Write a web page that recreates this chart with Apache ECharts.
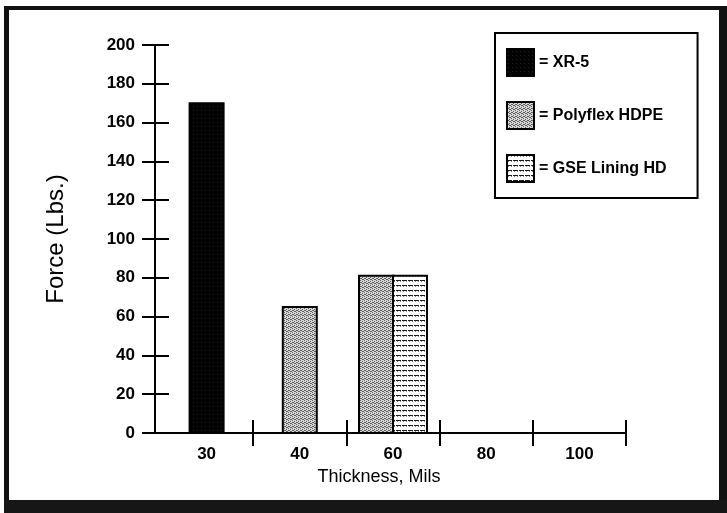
<!DOCTYPE html>
<html>
<head>
<meta charset="utf-8">
<script src="https://cdn.jsdelivr.net/npm/echarts@6/dist/echarts.min.js"></script>
<style>
html,body{margin:0;padding:0;background:#fff;}
#chart{width:727px;height:513px;}
</style>
</head>
<body>
<div id="chart"></div>
<script>
// ---- data ----
const categories = ['30', '40', '60', '80', '100'];
const seriesNames = ['XR-5', 'Polyflex HDPE', 'GSE Lining HD'];
const xr5 = [170, null, null, null, null];
const polyflex = [null, 65, 81, null, null];
const gse = [null, null, 81, null, null];
const yTicks = [0, 20, 40, 60, 80, 100, 120, 140, 160, 180, 200];

const allValues = [xr5, polyflex, gse];

// ---- patterns ----
function makeCanvas(w, h, draw) {
  const c = document.createElement('canvas');
  c.width = w; c.height = h;
  const ctx = c.getContext('2d');
  draw(ctx);
  return c;
}
const darkPat = makeCanvas(4, 4, ctx => {
  ctx.fillStyle = '#020202'; ctx.fillRect(0, 0, 4, 4);
  ctx.fillStyle = '#1c1c1c'; ctx.fillRect(1, 2, 1, 1);
});
const grayPat = makeCanvas(4, 4, ctx => {
  ctx.fillStyle = '#d6d6d6'; ctx.fillRect(0, 0, 4, 4);
  ctx.fillStyle = '#606060';
  [[0,0],[2,1],[1,2],[3,3],[2,3],[0,2]].forEach(p => ctx.fillRect(p[0], p[1], 1, 1));
});
const stripePat = makeCanvas(6, 5, ctx => {
  ctx.fillStyle = '#ffffff'; ctx.fillRect(0, 0, 6, 5);
  ctx.fillStyle = '#1a1a1a'; ctx.fillRect(0, 0, 5, 1);
  ctx.fillStyle = '#888'; ctx.fillRect(1, 1, 1, 1); ctx.fillRect(4, 1, 1, 1);
});
const fills = [
  { image: darkPat, repeat: 'repeat' },
  { image: grayPat, repeat: 'repeat' },
  { image: stripePat, repeat: 'repeat' }
];

// which series have values in each category
const present = categories.map((c, i) =>
  allValues.map((arr, s) => (arr[i] != null ? s : -1)).filter(s => s >= 0));

const BAR_W = 34;
function renderItem(params, api) {
  const cat = api.value(0);
  const val = api.value(1);
  const list = present[cat];
  const k = list.indexOf(params.seriesIndex);
  const n = list.length;
  const base = api.coord([cat, 0]);
  const top = api.coord([cat, val]);
  const x = base[0] - n * BAR_W / 2 + k * BAR_W;
  return {
    type: 'rect',
    shape: { x: x, y: top[1], width: BAR_W, height: base[1] - top[1] },
    style: { fill: fills[params.seriesIndex], stroke: '#000', lineWidth: 2 }
  };
}

const FONT = 'Liberation Sans, Arial, Helvetica, sans-serif';
const chart = echarts.init(document.getElementById('chart'));

const series = allValues.map((arr, s) => ({
  type: 'custom',
  name: seriesNames[s],
  renderItem: renderItem,
  xAxisIndex: 0,
  yAxisIndex: 0,
  itemStyle: { color: fills[s], borderColor: '#000', borderWidth: 2 },
  data: arr.map((v, i) => (v == null ? null : [i, v])).filter(d => d)
}));

chart.setOption({
  animation: false,
  backgroundColor: '#fff',
  grid: { left: 160, right: 101, top: 45, bottom: 80 },
  xAxis: [{
    type: 'category',
    data: categories,
    boundaryGap: true,
    position: 'bottom',
    axisLine: { show: true, lineStyle: { color: '#000', width: 2 } },
    axisTick: { show: true, length: 13, interval: (i) => i !== 0, lineStyle: { color: '#000', width: 2 } },
    axisLabel: { color: '#000', fontFamily: FONT, fontWeight: 'bold', fontSize: 17, margin: 13 },
    name: 'Thickness, Mils',
    nameLocation: 'middle',
    nameGap: 34,
    nameTextStyle: { color: '#000', fontFamily: FONT, fontSize: 18, padding: [0, 28, 0, 0] },
    splitLine: { show: false }
  }, {
    type: 'category',
    data: categories,
    boundaryGap: true,
    position: 'bottom',
    axisLine: { show: false },
    axisTick: { show: true, inside: true, length: 13, interval: (i) => i !== 0, lineStyle: { color: '#000', width: 2 } },
    axisLabel: { show: false },
    splitLine: { show: false }
  }],
  yAxis: [{
    type: 'value',
    min: yTicks[0],
    max: yTicks[yTicks.length - 1],
    interval: yTicks[1] - yTicks[0],
    position: 'left',
    offset: 5,
    axisLine: { show: true, lineStyle: { color: '#000', width: 2 } },
    axisTick: { show: true, length: 13, lineStyle: { color: '#000', width: 2 } },
    axisLabel: { color: '#000', fontFamily: FONT, fontWeight: 'bold', fontSize: 17, margin: 20 },
    splitLine: { show: false },
    name: 'Force (Lbs.)',
    nameLocation: 'middle',
    nameGap: 87,
    nameRotate: 90,
    nameTextStyle: { color: '#000', fontFamily: FONT, fontSize: 24 }
  }, {
    type: 'value',
    min: yTicks[0],
    max: yTicks[yTicks.length - 1],
    interval: yTicks[1] - yTicks[0],
    position: 'left',
    offset: 5,
    axisLine: { show: false },
    axisTick: { show: true, inside: true, length: 14, lineStyle: { color: '#000', width: 2 } },
    axisLabel: { show: false },
    splitLine: { show: false }
  }],
  legend: {
    orient: 'vertical',
    left: 495,
    top: 33,
    padding: [15, 31, 15, 11],
    borderColor: '#000',
    borderWidth: 2,
    itemWidth: 27,
    itemHeight: 27,
    itemGap: 24,
    icon: 'rect',
    formatter: name => '= ' + name,
    textStyle: { color: '#000', fontFamily: FONT, fontWeight: 'bold', fontSize: 16 },
    data: seriesNames.map((n, s) => ({
      name: n,
      itemStyle: { color: fills[s], borderColor: '#000', borderWidth: 2 }
    }))
  },
  graphic: [
    { type: 'rect', shape: { x: 4, y: 6, width: 5, height: 500 }, style: { fill: '#111' }, z: 100 },
    { type: 'rect', shape: { x: 4, y: 6, width: 718, height: 4 }, style: { fill: '#111' }, z: 100 },
    { type: 'rect', shape: { x: 719, y: 6, width: 8, height: 507 }, style: { fill: '#111' }, z: 100 },
    { type: 'rect', shape: { x: 4, y: 500, width: 723, height: 13 }, style: { fill: '#161616' }, z: 100 }
  ],
  series: series
});
</script>
</body>
</html>
